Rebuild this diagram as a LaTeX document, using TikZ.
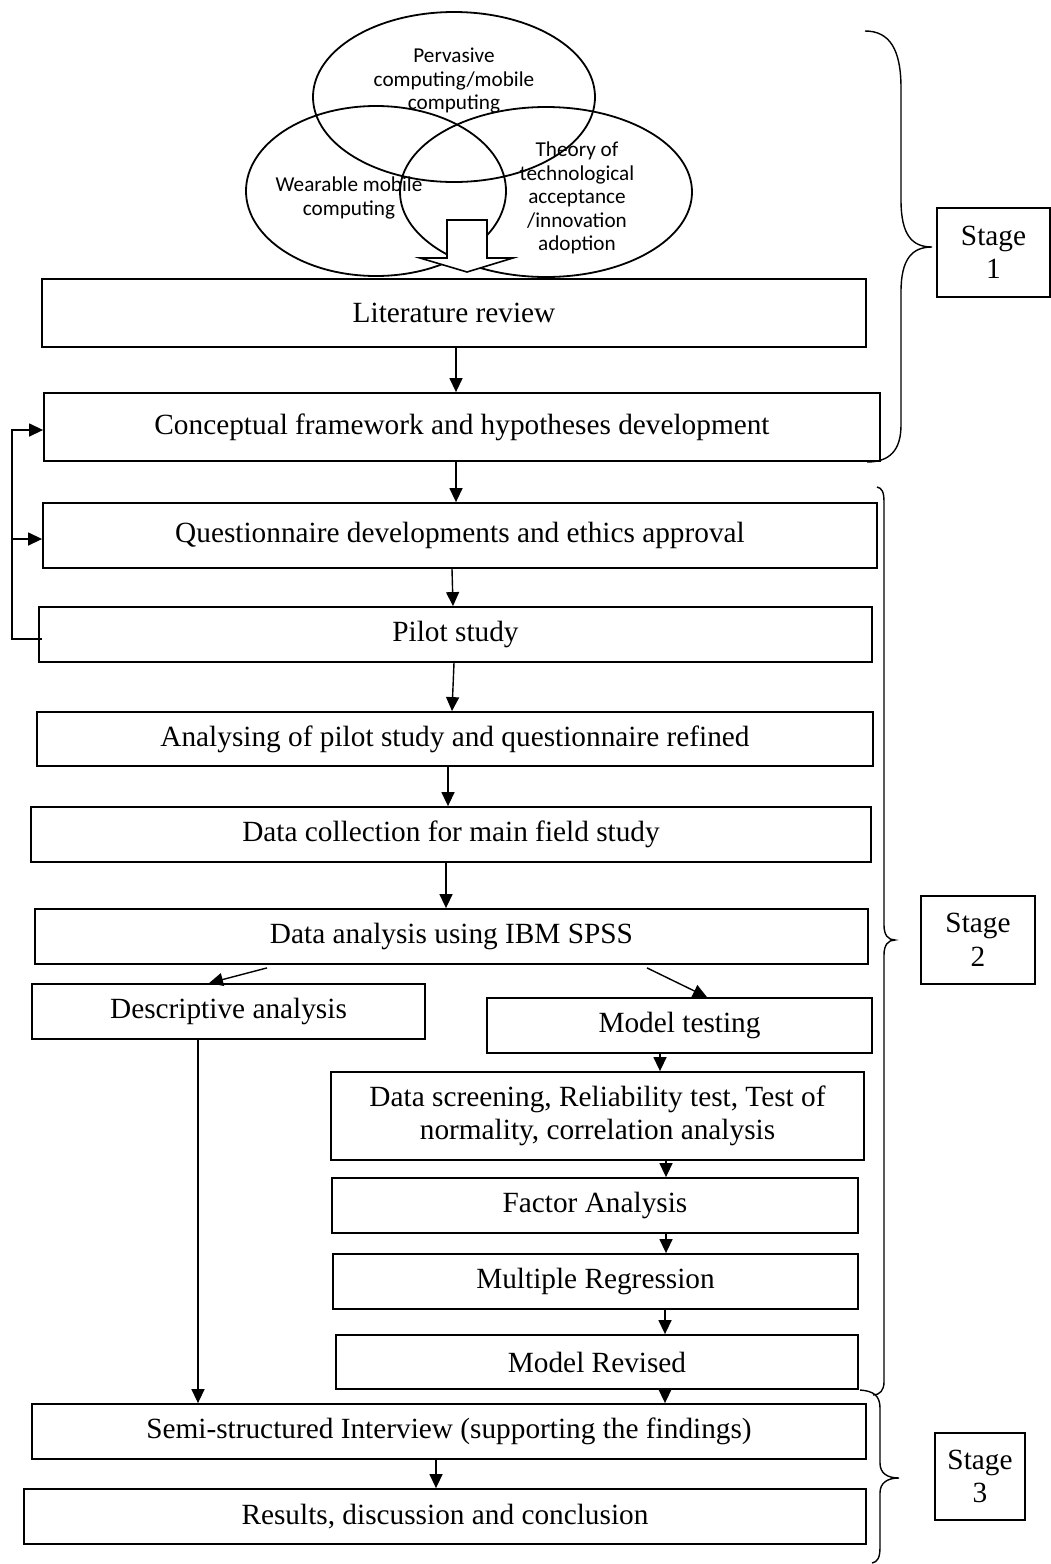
\documentclass[tikz,border=0pt]{standalone}
\usepackage{fontspec}
\setmainfont{Liberation Serif}
\newfontfamily\ellfont{Carlito}
\usetikzlibrary{arrows.meta,calc}
\begin{document}
\begin{tikzpicture}[x=1pt,y=-1pt,
  box/.style={draw, line width=1.8pt, inner sep=0pt, align=center,
    font=\fontsize{29.3}{33.5}\selectfont},
  stagebox/.style={box, line width=1.5pt},
  arr/.style={line width=1.4pt, -{Triangle[length=14pt,width=13pt]}},
  link/.style={line width=1.4pt},
  brace/.style={line width=1.4pt},
  ring/.style={line width=1.8pt},
  lbl/.style={align=center, inner sep=0pt, font=\ellfont\fontsize{21.2}{23.5}\selectfont}]
\useasboundingbox (0,0) rectangle (1051,1564);

% overlapping research areas
\draw[ring] (454,97) ellipse [x radius=141, y radius=85];
\draw[ring] (376,191) ellipse [x radius=130, y radius=85];
\draw[ring] (546,192) ellipse [x radius=146, y radius=85];
\node[lbl] (pervasive) at (454,81) {Pervasive\\computing/mobile\\computing};
\node[lbl] (wearable) at (349,198) {Wearable mobile\\computing};
\node[lbl] (theory) at (577,198) {Theory of\\technological\\acceptance\\/innovation\\adoption};
% block arrow into the literature review
\draw[line width=1.6pt, fill=white] (447,220) -- (487,220) -- (487,258) -- (513,258)
  -- (467,272) -- (420,258) -- (447,258) -- cycle;

% main flow
\node[box, minimum width=824pt, minimum height=68pt] (lit) at (454,313) {Literature review};
\node[box, minimum width=836pt, minimum height=68pt] (conc) at (462,427) {Conceptual framework and hypotheses development};
\node[box, minimum width=834pt, minimum height=65pt] (quest) at (460,535.5) {Questionnaire developments and ethics approval};
\node[box, minimum width=833pt, minimum height=55pt] (pilot) at (455.5,634.5) {Pilot study};
\node[box, minimum width=836pt, minimum height=54pt] (anal) at (455,739) {Analysing of pilot study and questionnaire refined};
\node[box, minimum width=840pt, minimum height=55pt] (coll) at (451,834.5) {Data collection for main field study};
\node[box, minimum width=833pt, minimum height=55pt] (spss) at (451.5,936.5) {Data analysis using IBM SPSS};
\node[box, minimum width=393pt, minimum height=55pt] (desc) at (228.5,1011.5) {Descriptive analysis};
\node[box, minimum width=385pt, minimum height=55pt] (mtest) at (679.5,1025.5) {Model testing};
\node[box, minimum width=533pt, minimum height=88pt] (screen) at (597.5,1116) {Data screening, Reliability test, Test of\\normality, correlation analysis};
\node[box, minimum width=526pt, minimum height=55pt] (factor) at (595,1205.5) {Factor Analysis};
\node[box, minimum width=525pt, minimum height=55pt] (mreg) at (595.5,1281.5) {Multiple Regression};
\node[box, minimum width=522pt, minimum height=54pt] (mrev) at (597,1362) {Model Revised};
\node[box, minimum width=834pt, minimum height=55pt] (semi) at (449,1431.5) {Semi-structured Interview (supporting the findings)};
\node[box, minimum width=842pt, minimum height=55pt] (res) at (445,1516.5) {Results, discussion and conclusion};

% connectors
\draw[arr] (456,0 |- lit.south) -- (456,0 |- conc.north);
\draw[arr] (456,0 |- conc.south) -- (456,0 |- quest.north);
\draw[arr] (452,0 |- quest.south) -- (453,0 |- pilot.north);
\draw[arr] (454,0 |- pilot.south) -- (452,0 |- anal.north);
\draw[arr] (448,0 |- anal.south) -- (448,0 |- coll.north);
\draw[arr] (446,0 |- coll.south) -- (446,0 |- spss.north);
\draw[arr] ($(267,0 |- spss.south)+(0,3)$) -- (209,0 |- desc.north);
\draw[arr] ($(647,0 |- spss.south)+(0,3)$) -- (707,0 |- mtest.north);
\draw[arr] (660,0 |- mtest.south) -- (660,0 |- screen.north);
\draw[arr] (666,0 |- screen.south) -- (666,0 |- factor.north);
\draw[arr] (666,0 |- factor.south) -- (666,0 |- mreg.north);
\draw[arr] (665,0 |- mreg.south) -- (665,0 |- mrev.north);
\draw[arr] (665,0 |- mrev.south) -- (665,0 |- semi.north);
\draw[arr] (198,0 |- desc.south) -- (198,0 |- semi.north);
\draw[arr] (436,0 |- semi.south) -- (436,0 |- res.north);

% feedback loop from the pilot study
\draw[link] ($(pilot.west |- 0,639)+(4,0)$) -- (12,639) -- (12,539);
\draw[arr] (12,539) |- (conc.west |- 0,430);
\draw[arr] (12,539) -- (quest.west |- 0,539);

% stage braces and labels
\draw[brace] (865,31) .. controls (890,31) and (901,50) .. (901,88) -- (901,200)
  .. controls (901,235) and (912,247) .. (932,247)
  .. controls (912,247) and (901,259) .. (901,292) -- (901,425)
  .. controls (901,450) and (890,462) .. (867,462);
\node[stagebox, minimum width=113pt, minimum height=89pt] (s1) at (993.5,252.5) {Stage\\1};

\draw[brace] (877,487) .. controls (882,488) and (884,492) .. (884,502) -- (884,925)
  .. controls (884,935) and (888,940) .. (895,940)
  .. controls (888,940) and (884,945) .. (884,955) -- (884,1382)
  .. controls (884,1390) and (880,1395) .. (873,1395);
\node[stagebox, minimum width=114pt, minimum height=88pt] (s2) at (978,940) {Stage\\2};

\draw[brace] (860,1390) .. controls (874,1391) and (880,1396) .. (880,1408) -- (880,1463)
  .. controls (880,1473) and (887,1478) .. (899,1478)
  .. controls (887,1478) and (880,1483) .. (880,1493) -- (880,1547)
  .. controls (880,1557) and (878,1562) .. (872,1563);
\node[stagebox, minimum width=90pt, minimum height=87pt] (s3) at (980,1476.5) {Stage\\3};
\end{tikzpicture}
\end{document}
